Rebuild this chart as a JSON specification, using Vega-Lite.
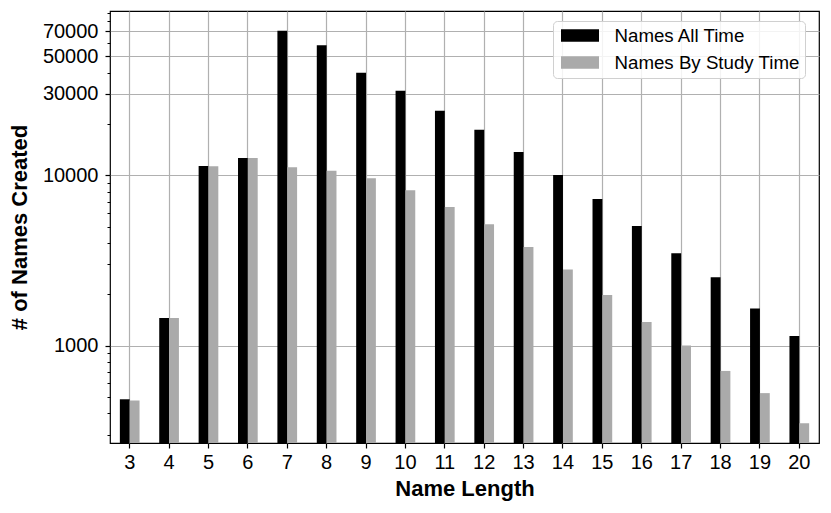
{
  "$schema": "https://vega.github.io/schema/vega-lite/v6.json",
  "width": 709,
  "height": 432,
  "autosize": {"type": "none"},
  "padding": {"left": 110, "top": 11, "right": 12, "bottom": 70},
  "background": "white",
  "config": {
    "font": "Liberation Sans",
    "view": {"stroke": "black", "strokeWidth": 1.2},
    "axis": {
      "labelFont": "Liberation Sans",
      "titleFont": "Liberation Sans",
      "labelColor": "black",
      "titleColor": "black",
      "tickColor": "black",
      "domain": false,
      "gridColor": "#b0b0b0",
      "gridWidth": 1.2
    }
  },
  "data": {
    "values": [
      {"len": 3, "series": "Names All Time", "count": 484},
      {"len": 3, "series": "Names By Study Time", "count": 476},
      {"len": 4, "series": "Names All Time", "count": 1454},
      {"len": 4, "series": "Names By Study Time", "count": 1450},
      {"len": 5, "series": "Names All Time", "count": 11340},
      {"len": 5, "series": "Names By Study Time", "count": 11300},
      {"len": 6, "series": "Names All Time", "count": 12630},
      {"len": 6, "series": "Names By Study Time", "count": 12630},
      {"len": 7, "series": "Names All Time", "count": 70600},
      {"len": 7, "series": "Names By Study Time", "count": 11140},
      {"len": 8, "series": "Names All Time", "count": 57940},
      {"len": 8, "series": "Names By Study Time", "count": 10640},
      {"len": 9, "series": "Names All Time", "count": 40000},
      {"len": 9, "series": "Names By Study Time", "count": 9600},
      {"len": 10, "series": "Names All Time", "count": 31370},
      {"len": 10, "series": "Names By Study Time", "count": 8166},
      {"len": 11, "series": "Names All Time", "count": 23930},
      {"len": 11, "series": "Names By Study Time", "count": 6516},
      {"len": 12, "series": "Names All Time", "count": 18520},
      {"len": 12, "series": "Names By Study Time", "count": 5157},
      {"len": 13, "series": "Names All Time", "count": 13700},
      {"len": 13, "series": "Names By Study Time", "count": 3795},
      {"len": 14, "series": "Names All Time", "count": 10040},
      {"len": 14, "series": "Names By Study Time", "count": 2793},
      {"len": 15, "series": "Names All Time", "count": 7260},
      {"len": 15, "series": "Names By Study Time", "count": 1984},
      {"len": 16, "series": "Names All Time", "count": 5040},
      {"len": 16, "series": "Names By Study Time", "count": 1377},
      {"len": 17, "series": "Names All Time", "count": 3486},
      {"len": 17, "series": "Names By Study Time", "count": 1000},
      {"len": 18, "series": "Names All Time", "count": 2520},
      {"len": 18, "series": "Names By Study Time", "count": 710},
      {"len": 19, "series": "Names All Time", "count": 1649},
      {"len": 19, "series": "Names By Study Time", "count": 526},
      {"len": 20, "series": "Names All Time", "count": 1140},
      {"len": 20, "series": "Names By Study Time", "count": 350}
    ]
  },
  "encoding": {
    "x": {
      "field": "len",
      "type": "ordinal",
      "sort": "ascending",
      "scale": {"paddingInner": 0.5, "paddingOuter": 0.25},
      "axis": {
        "title": "Name Length",
        "titleFontSize": 22,
        "titleFontWeight": "bold",
        "titlePadding": 6,
        "labelFontSize": 20,
        "labelAngle": 0,
        "labelPadding": 4,
        "tickSize": 5,
        "tickWidth": 1.2,
        "grid": true,
        "zindex": 0
      }
    },
    "xOffset": {
      "field": "series",
      "type": "nominal",
      "scale": {"paddingInner": 0, "paddingOuter": 0}
    },
    "color": {
      "field": "series",
      "type": "nominal",
      "scale": {
        "domain": ["Names All Time", "Names By Study Time"],
        "range": ["#000000", "#aaaaaa"]
      },
      "legend": {
        "title": null,
        "orient": "none",
        "legendX": 443,
        "legendY": 10,
        "padding": 5,
        "fillColor": "rgba(255,255,255,0.85)",
        "strokeColor": "#d0d0d0",
        "cornerRadius": 4,
        "labelFont": "Liberation Sans",
        "labelFontSize": 18.7,
        "labelColor": "black",
        "labelLimit": 400,
        "labelOffset": 25,
        "symbolType": "M-2,-0.67H2V0.67H-2Z",
        "symbolSize": 361,
        "symbolOffset": 12.5,
        "symbolStrokeWidth": 0,
        "symbolOpacity": 1,
        "rowPadding": 7
      }
    }
  },
  "layer": [
    {
      "mark": {"type": "bar", "opacity": 1},
      "encoding": {
        "y": {
          "field": "count",
          "type": "quantitative",
          "scale": {"type": "log", "domain": [268, 92100], "nice": false, "clamp": true},
          "axis": {
            "title": "# of Names Created",
            "titleFontSize": 22,
            "titleFontWeight": "bold",
            "titlePadding": 11,
            "labelFontSize": 20,
            "labelPadding": 7,
            "tickSize": 5,
            "tickWidth": 1.2,
            "values": [1000, 10000, 30000, 50000, 70000],
            "format": "d",
            "grid": true,
            "orient": "left",
            "offset": 0,
            "zindex": 0
          }
        }
      }
    },
    {
      "mark": {"type": "bar", "opacity": 0},
      "encoding": {
        "y": {
          "field": "count",
          "type": "quantitative",
          "axis": {
            "title": null,
            "labels": false,
            "grid": false,
            "orient": "left",
            "offset": 0,
            "tickSize": 3,
            "tickWidth": 1,
            "values": [300, 400, 500, 600, 700, 800, 900, 2000, 3000, 4000, 5000, 6000, 7000, 8000, 9000, 20000, 40000, 60000, 80000, 90000]
          }
        }
      }
    }
  ],
  "resolve": {"axis": {"y": "independent"}}
}
